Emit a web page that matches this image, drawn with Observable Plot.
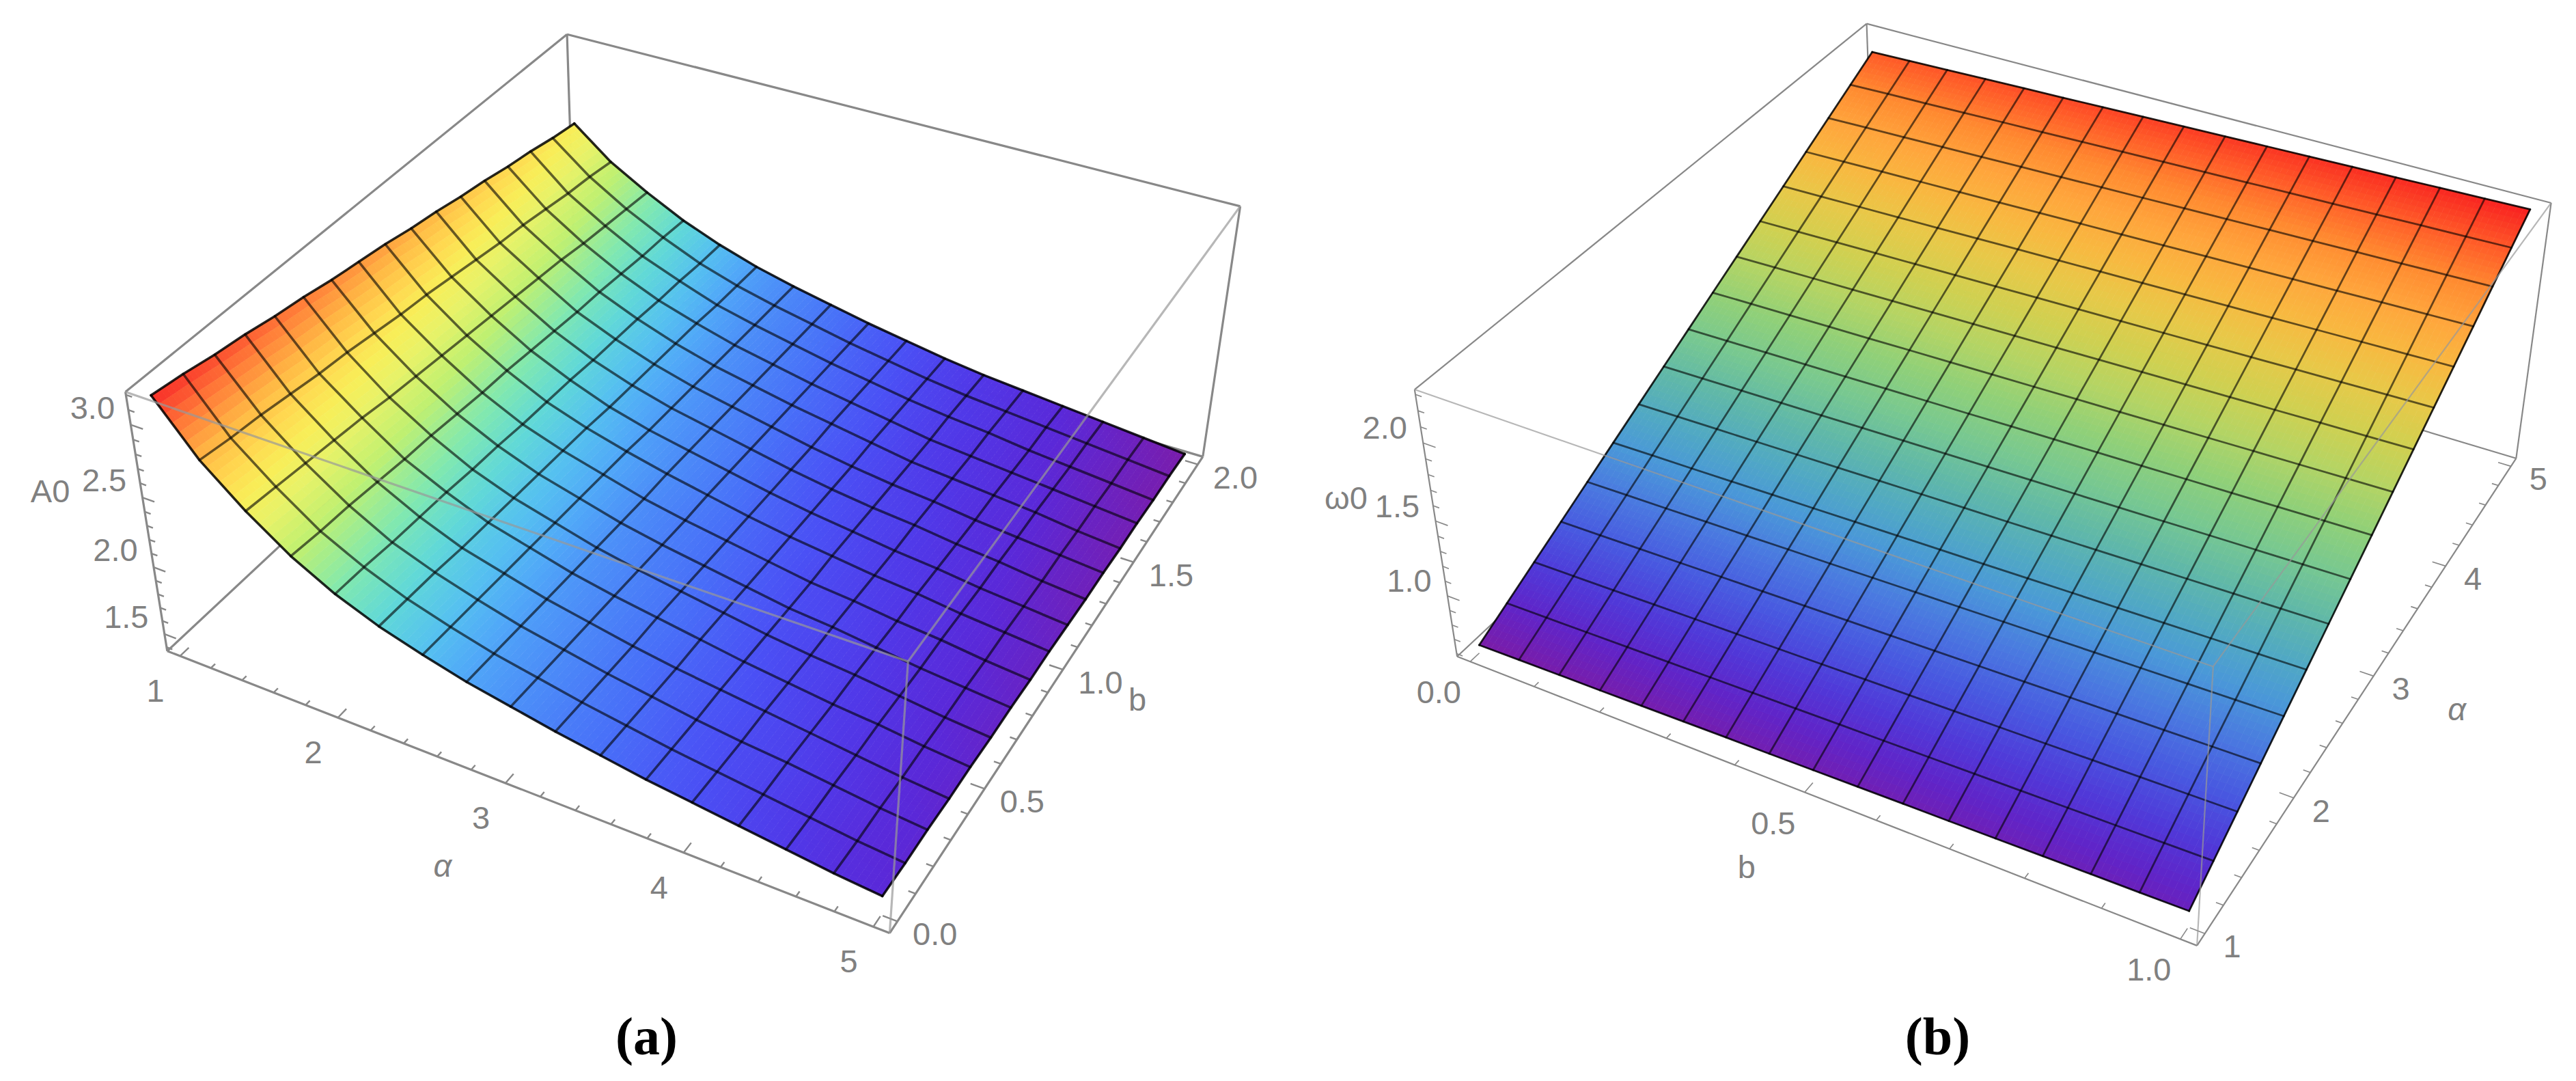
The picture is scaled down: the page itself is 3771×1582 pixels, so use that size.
<!DOCTYPE html>
<html><head><meta charset="utf-8">
<script src="https://cdn.jsdelivr.net/npm/d3@7"></script>
<script src="https://cdn.jsdelivr.net/npm/@observablehq/plot@0.6"></script>
<style>html,body{margin:0;padding:0;background:#fff;overflow:hidden}#row{display:flex;width:3771px;height:1582px}svg{display:block}</style>
</head><body><div id="row"></div>
<script>
// ---------- data ----------
const alphaGrid = [1,1.25,1.5,1.75,2,2.25,2.5,2.75,3,3.25,3.5,3.75,4,4.25,4.5,4.75,5];
const bGridA = [0,.125,.25,.375,.5,.625,.75,.875,1,1.125,1.25,1.375,1.5,1.625,1.75,1.875,2];
const bGridB = [0,.0625,.125,.1875,.25,.3125,.375,.4375,.5,.5625,.625,.6875,.75,.8125,.875,.9375,1];
// A0 by alpha (rows) and b (columns)
const a0 = [
[3.17,3.14,3.10,3.07,3.03,3.00,2.96,2.93,2.90,2.86,2.83,2.79,2.76,2.72,2.69,2.65,2.62],
[2.83,2.80,2.78,2.75,2.72,2.70,2.67,2.64,2.62,2.59,2.56,2.53,2.51,2.48,2.45,2.43,2.40],
[2.58,2.56,2.54,2.52,2.50,2.47,2.45,2.43,2.41,2.39,2.37,2.35,2.33,2.30,2.28,2.26,2.24],
[2.37,2.35,2.34,2.32,2.30,2.29,2.27,2.25,2.24,2.22,2.20,2.18,2.17,2.15,2.13,2.12,2.10],
[2.21,2.20,2.18,2.17,2.16,2.14,2.13,2.11,2.10,2.09,2.07,2.06,2.05,2.03,2.02,2.00,1.99],
[2.09,2.08,2.07,2.05,2.04,2.03,2.02,2.01,2.00,1.98,1.97,1.96,1.95,1.94,1.92,1.91,1.90],
[2.00,1.99,1.98,1.97,1.96,1.95,1.94,1.93,1.92,1.90,1.89,1.88,1.87,1.86,1.85,1.84,1.83],
[1.92,1.91,1.90,1.89,1.88,1.87,1.86,1.85,1.85,1.84,1.83,1.82,1.81,1.80,1.79,1.78,1.77],
[1.86,1.85,1.84,1.83,1.82,1.81,1.80,1.79,1.79,1.78,1.77,1.76,1.75,1.74,1.73,1.72,1.71],
[1.80,1.79,1.78,1.77,1.77,1.76,1.75,1.74,1.73,1.72,1.71,1.70,1.70,1.69,1.68,1.67,1.66],
[1.75,1.74,1.73,1.72,1.72,1.71,1.70,1.69,1.68,1.67,1.66,1.65,1.65,1.64,1.63,1.62,1.61],
[1.70,1.69,1.68,1.68,1.67,1.66,1.65,1.64,1.64,1.63,1.62,1.61,1.60,1.59,1.59,1.58,1.57],
[1.66,1.65,1.64,1.64,1.63,1.62,1.62,1.61,1.60,1.59,1.59,1.58,1.57,1.56,1.56,1.55,1.54],
[1.62,1.61,1.61,1.60,1.59,1.59,1.58,1.57,1.57,1.56,1.55,1.54,1.54,1.53,1.52,1.52,1.51],
[1.58,1.57,1.57,1.56,1.56,1.55,1.54,1.54,1.53,1.52,1.52,1.51,1.51,1.50,1.49,1.49,1.48],
[1.54,1.53,1.53,1.52,1.52,1.51,1.51,1.50,1.50,1.49,1.48,1.48,1.47,1.47,1.46,1.46,1.45],
[1.51,1.50,1.50,1.49,1.49,1.48,1.48,1.47,1.47,1.46,1.45,1.45,1.44,1.44,1.43,1.43,1.42]];
// omega0 by alpha (rows) and b (columns)
const w0 = [
[.630,.634,.638,.641,.645,.649,.653,.656,.660,.664,.668,.671,.675,.679,.683,.686,.690],
[.728,.732,.736,.740,.744,.748,.752,.756,.760,.763,.767,.771,.775,.779,.783,.787,.791],
[.826,.830,.834,.839,.843,.847,.851,.855,.860,.864,.868,.872,.876,.881,.885,.889,.893],
[.924,.928,.933,.937,.942,.946,.950,.955,.959,.963,.968,.972,.977,.981,.985,.990,.994],
[1.022,1.027,1.031,1.036,1.040,1.045,1.049,1.054,1.059,1.063,1.068,1.072,1.077,1.081,1.086,1.090,1.095],
[1.121,1.126,1.130,1.135,1.140,1.144,1.149,1.154,1.159,1.163,1.168,1.173,1.177,1.182,1.187,1.191,1.196],
[1.219,1.224,1.229,1.234,1.239,1.244,1.249,1.254,1.259,1.263,1.268,1.273,1.278,1.283,1.288,1.293,1.298],
[1.317,1.322,1.327,1.332,1.337,1.343,1.348,1.353,1.358,1.363,1.368,1.373,1.378,1.384,1.389,1.394,1.399],
[1.415,1.420,1.426,1.431,1.436,1.442,1.447,1.452,1.458,1.463,1.468,1.473,1.479,1.484,1.489,1.495,1.500],
[1.513,1.519,1.524,1.530,1.535,1.541,1.546,1.552,1.557,1.563,1.568,1.574,1.579,1.585,1.590,1.596,1.601],
[1.611,1.617,1.623,1.628,1.634,1.640,1.646,1.651,1.657,1.663,1.669,1.674,1.680,1.686,1.692,1.697,1.703],
[1.709,1.715,1.721,1.727,1.733,1.739,1.745,1.751,1.757,1.762,1.768,1.774,1.780,1.786,1.792,1.798,1.804],
[1.807,1.813,1.819,1.825,1.831,1.838,1.844,1.850,1.856,1.862,1.868,1.874,1.880,1.887,1.893,1.899,1.905],
[1.906,1.912,1.919,1.925,1.931,1.937,1.944,1.950,1.956,1.962,1.969,1.975,1.981,1.987,1.994,2.000,2.006],
[2.004,2.011,2.017,2.024,2.030,2.037,2.043,2.050,2.056,2.063,2.069,2.076,2.082,2.089,2.095,2.102,2.108],
[2.102,2.109,2.115,2.122,2.129,2.135,2.142,2.149,2.156,2.162,2.169,2.176,2.182,2.189,2.196,2.202,2.209],
[2.200,2.207,2.214,2.221,2.228,2.234,2.241,2.248,2.255,2.262,2.269,2.276,2.283,2.289,2.296,2.303,2.310]];

const alphaLabels = [1,2,3,4,5];
const bLabelsA = [0,.5,1,1.5,2];
const bLabelsB = [0,.5,1];
const zLabelsA = [1.5,2,2.5,3];
const zLabelsB = [1,1.5,2];
const colorStopsA = [0,.051,.09,.137,.19,.25,.29,.33,.385,.45,.54,.62,.68,.74,.806,.9,1];
const colorsA = ["#7a1cab","#5a28d8","#5038e8","#4a50f5","#4870f8","#4c90f8","#50a8f8","#55c0f0","#60d8d8","#80e8b0","#c0f070","#e8f268","#f8ee58","#ffd850","#ffb844","#ff7a38","#f82a28"];
const colorStopsB = [0,.058,.11,.17,.23,.29,.34,.40,.46,.52,.58,.64,.70,.757,.816,.875,.935,1];
const colorsB = ["#7a1ca8","#6024c8","#5038d8","#4858e0","#4a78e0","#4a98d8","#50a8c4","#60b8a8","#78c890","#90d078","#b4d464","#d0d050","#e8c848","#f8b840","#ffa53c","#ff8a30","#ff5a28","#f82020"];

// ---------- camera: solves a perspective matrix from where the box corners sit ----------
function solveCamera(c) {
  const A = [], B = [];
  for (const [[u,v,w],[x0,y0]] of c) {
    const x = x0/1000, y = y0/1000;
    A.push([u,v,w,1,0,0,0,0,-x*u,-x*v,-x*w]); B.push(x);
    A.push([0,0,0,0,u,v,w,1,-y*u,-y*v,-y*w]); B.push(y);
  }
  const n = 11, M = d3.range(n).map(i => d3.range(n+1).map(j =>
    j < n ? d3.sum(A, r => r[i]*r[j]) : d3.sum(A, (r,k) => r[i]*B[k])));
  for (let i = 0; i < n; i++) {
    let p = i; for (let k = i+1; k < n; k++) if (Math.abs(M[k][i]) > Math.abs(M[p][i])) p = k;
    [M[i],M[p]] = [M[p],M[i]];
    for (let k = 0; k < n; k++) if (k !== i) {
      const f = M[k][i]/M[i][i];
      for (let j = i; j <= n; j++) M[k][j] -= f*M[i][j];
    }
  }
  const p = M.map((r,i) => r[n]/r[i]);
  return (u,v,w) => {
    const d = p[8]*u+p[9]*v+p[10]*w+1;
    return [1000*(p[0]*u+p[1]*v+p[2]*w+p[3])/d, 1000*(p[4]*u+p[5]*v+p[6]*w+p[7])/d];
  };
}

function panel(o) {
  const cam = solveCamera(o.corners);
  const U = x => (x-o.ulim[0])/(o.ulim[1]-o.ulim[0]);
  const V = x => (x-o.vlim[0])/(o.vlim[1]-o.vlim[0]);
  const W = x => (x-o.zlim[0])/(o.zlim[1]-o.zlim[0]);
  const P = (a,b,z) => cam(U(a),V(b),W(z));
  const nu = o.us.length, nv = o.vs.length;
  const [zlo,zhi] = d3.extent(d3.range(nu).flatMap(i => d3.range(nv).map(j => o.z(i,j))));
  // surface patches, cut finer than the mesh so colour runs smoothly
  const S = 7, patches = [];
  let id = 0;
  const fz = (i,j,s,t) => {
    const a=o.z(i,j), b=o.z(i+1,j), c=o.z(i,j+1), d=o.z(i+1,j+1);
    return a*(1-s)*(1-t)+b*s*(1-t)+c*(1-s)*t+d*s*t;
  };
  const node = (i,j,s,t) => {
    const a=o.us[i]+(o.us[i+1]-o.us[i])*s, b=o.vs[j]+(o.vs[j+1]-o.vs[j])*t;
    return P(a,b,fz(i,j,s,t));
  };
  for (let i=0;i<nu-1;i++) for (let j=0;j<nv-1;j++) for (let a=0;a<S;a++) for (let b=0;b<S;b++) {
    const s0=a/S,s1=(a+1)/S,t0=b/S,t1=(b+1)/S;
    const val=(fz(i,j,(s0+s1)/2,(t0+t1)/2)-zlo)/(zhi-zlo);
    for (const [s,t] of [[s0,t0],[s1,t0],[s1,t1],[s0,t1]]) {
      const [x,y]=node(i,j,s,t);
      patches.push({id,x,y,val});
    }
    id++;
  }
  const mesh = [], outline = [];
  o.us.forEach((a,i) => o.vs.forEach((b,j) => {
    const [x,y]=P(a,b,o.z(i,j));
    if (i>0 && i<nu-1) mesh.push({id:"u"+i,x,y});
    if (j>0 && j<nv-1) mesh.push({id:"v"+j,x,y});
    if (i===0||i===nu-1) outline.push({id:"u"+i,x,y});
    if (j===0||j===nv-1) outline.push({id:"v"+j,x,y});
  }));
  const seg = (a,b) => { const p=cam(...a), q=cam(...b); return {x1:p[0],y1:p[1],x2:q[0],y2:q[1]}; };
  const backEdges = [[[0,0,1],[0,1,1]],[[0,1,1],[1,1,1]],[[0,1,1],[0,1,0]],[[0,0,0],[0,1,0]],[[0,1,0],[1,1,0]],
    [[0,0,1],[0,0,0]],[[1,1,1],[1,1,0]],[[0,0,0],[1,0,0]],[[1,0,0],[1,1,0]]].map(e=>seg(...e));
  const frontEdges = [[[0,0,1],[1,0,1]],[[1,0,1],[1,1,1]],[[1,0,1],[1,0,0]]].map(e=>seg(...e));
  const ticks = [];
  const addU = (vals, major, wallV, dirV) => vals.forEach(a => {
    const u=U(a), L=major(a)?.018:.009; ticks.push(seg([u,wallV,0],[u,wallV+dirV*L,0]));
  });
  const addV = (vals, major, wallU, dirU) => vals.forEach(b => {
    const v=V(b), L=major(b)?.018:.009; ticks.push(seg([wallU,v,0],[wallU+dirU*L,v,0]));
  });
  const isMajor = (list) => (x) => list.some(l => Math.abs(l-x)<1e-6);
  addU(o.uMinor, isMajor(o.uLabels), 0, 1);
  addV(o.vMinor, isMajor(o.vLabels), o.vWall, o.vDir);
  o.zMinor.forEach(z => { const w=W(z), L=isMajor(o.zLabels)(z)?.018:.009; ticks.push(seg([0,0,w],[L,0,w])); });
  const uText = o.uLabels.map(a => { const [x,y]=cam(U(a),0,0); return {x,y,t:o.uFmt(a)}; });
  const vText = o.vLabels.map(b => { const [x,y]=cam(o.vWall,V(b),0); return {x,y,t:o.vFmt(b)}; });
  const zText = o.zLabels.map(z => { const [x,y]=cam(0,0,W(z)); return {x,y,t:d3.format(".1f")(z)}; });
  const txt = {fontFamily:"Liberation Sans, Arial, sans-serif",fontSize:47,fill:"#808080",text:"t",x:"x",y:"y",textAnchor:"middle",lineAnchor:"middle"};
  const title = (s,xy,dx,dy,extra={}) => Plot.text([{x:xy[0],y:xy[1],t:s}],{...txt,dx,dy,...extra});
  return Plot.plot({
    width:o.width,height:1582,margin:0,
    x:{domain:o.xDomain,range:[0,o.width],axis:null},
    y:{domain:[1582,0],range:[1582,0],axis:null},
    color:{type:"linear",domain:o.stops,range:o.colors,interpolate:"rgb",clamp:true},
    style:{background:"#fff"},
    marks:[
      Plot.link(backEdges,{x1:"x1",y1:"y1",x2:"x2",y2:"y2",stroke:"#888",strokeWidth:o.boxWidth}),
      Plot.link(ticks,{x1:"x1",y1:"y1",x2:"x2",y2:"y2",stroke:"#888",strokeWidth:o.boxWidth*.75}),
      Plot.line(patches,{x:"x",y:"y",z:"id",fill:"val",stroke:"val",strokeWidth:.9,curve:"linear"}),
      Plot.line(mesh,{x:"x",y:"y",z:"id",stroke:"#000",strokeOpacity:o.meshOpacity,strokeWidth:o.meshWidth}),
      Plot.line(outline,{x:"x",y:"y",z:"id",stroke:"#000",strokeOpacity:.85,strokeWidth:o.meshWidth}),
      Plot.link(frontEdges,{x1:"x1",y1:"y1",x2:"x2",y2:"y2",stroke:"#999",strokeOpacity:.7,strokeWidth:o.boxWidth}),
      Plot.text(uText,{...txt,dx:o.uOff[0],dy:o.uOff[1]}),
      Plot.text(vText,{...txt,dx:o.vOff[0],dy:o.vOff[1]}),
      Plot.text(zText,{...txt,dx:o.zOff[0],dy:o.zOff[1]}),
      title(o.zTitle,cam(0,0,W(o.zTitleAt)),o.zTitleOff[0],o.zTitleOff[1]),
      title(o.uTitle,cam(U(o.uTitleAt),0,0),o.uTitleOff[0],o.uTitleOff[1],{fontStyle:o.uTitle==="α"?"italic":"normal"}),
      title(o.vTitle,cam(o.vWall,V(o.vTitleAt),0),o.vTitleOff[0],o.vTitleOff[1],{fontStyle:o.vTitle==="α"?"italic":"normal"}),
      Plot.text([o.caption],{x:()=>o.captionX,y:()=>1518,text:d=>d,fontFamily:"Liberation Serif, Times New Roman, serif",fontWeight:"bold",fontSize:78,fill:"#000",textAnchor:"middle",lineAnchor:"middle"})
    ]
  });
}

const stepRange = (a,b,s) => d3.range(Math.round((b-a)/s)+1).map(i => +(a+i*s).toFixed(4));

const chartA = panel({
  width:1886,xDomain:[0,1886],caption:"(a)",captionX:946,
  us:alphaGrid,vs:bGridA,z:(i,j)=>a0[i][j],
  ulim:[1-4*.0208,5+4*.0208],vlim:[-.0417,2.0417],zlim:[1.37,3.22],
  corners:[[[0,0,0],[243,952]],[[1,0,0],[1305,1364]],[[1,1,0],[1759,669]],[[0,0,1],[184,573]],[[1,0,1],[1326,969]],[[1,1,1],[1816,300]],[[0,1,1],[830,50]]],
  stops:colorStopsA,colors:colorsA,boxWidth:3.2,meshWidth:3.6,meshOpacity:.6,
  uMinor:stepRange(1,5,.2),uLabels:alphaLabels,uFmt:d=>String(d),uOff:[-36,52],
  vMinor:stepRange(0,2,.1),vLabels:bLabelsA,vFmt:d3.format(".1f"),vOff:[55,20],vWall:1,vDir:-1,
  zMinor:stepRange(1.4,3.2,.1),zLabels:zLabelsA,zOff:[-56,-24],
  zTitle:"A0",zTitleAt:2.5,zTitleOff:[-135,-8],
  uTitle:"α",uTitleAt:3,uTitleOff:[-92,122],
  vTitle:"b",vTitleAt:1,vTitleOff:[109,45]
});
const chartB = panel({
  width:1885,xDomain:[1886,3771],caption:"(b)",captionX:2836,
  us:bGridB,vs:alphaGrid,z:(i,j)=>w0[j][i],
  ulim:[-.0208,1.0208],vlim:[1-4*.0208,5+4*.0208],zlim:[.58,2.33],
  corners:[[[0,0,0],[2133,960]],[[1,0,0],[3215,1384]],[[1,1,0],[3683,670]],[[0,0,1],[2070,570]],[[1,0,1],[3240,974]],[[1,1,1],[3734,297]],[[0,1,1],[2732,34]]],
  stops:colorStopsB,colors:colorsB,boxWidth:2.2,meshWidth:2.8,meshOpacity:.6,
  uMinor:stepRange(0,1,.1),uLabels:bLabelsB,uFmt:d3.format(".1f"),uOff:[-46,46],
  vMinor:stepRange(1,5,.2),vLabels:alphaLabels,vFmt:d=>String(d),vOff:[40,20],vWall:1,vDir:-1,
  zMinor:stepRange(.6,2.3,.1),zLabels:zLabelsB,zOff:[-56,-21],
  zTitle:"ω0",zTitleAt:1.5,zTitleOff:[-131,-33],
  uTitle:"b",uTitleAt:.5,uTitleOff:[-85,110],
  vTitle:"α",vTitleAt:3,vTitleOff:[122,50]
});
document.getElementById("row").append(chartA,chartB);
</script>
</body></html>
